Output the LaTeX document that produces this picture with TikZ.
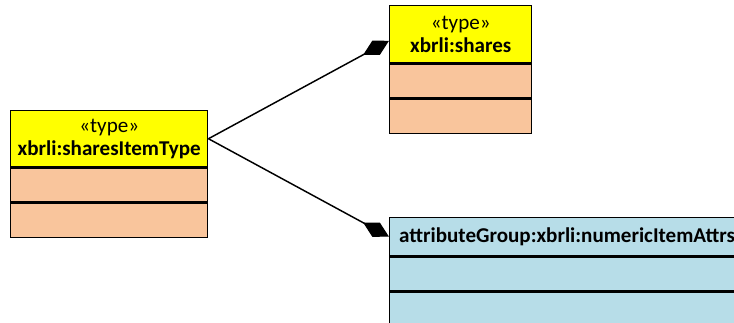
\documentclass[tikz,border=0pt]{standalone}
\usepackage{fontspec}
\setmainfont{Carlito}
\usepackage{tikz}
\usetikzlibrary{arrows.meta, positioning}

\definecolor{umlyellow}{HTML}{FFFF00}
\definecolor{umlpeach}{HTML}{F9C59C}
\definecolor{umlblue}{HTML}{B7DDE8}

\begin{document}
\begin{tikzpicture}[
    x=0.75pt, y=-0.75pt,
    box/.style={
        draw, line width=1.1pt,
        anchor=north west,
        inner sep=0pt,
        font=\fontsize{15.8}{17.5}\selectfont
    },
    typehdr/.style={box, fill=umlyellow, align=center},
    grouphdr/.style={box, fill=umlblue, align=center},
    peachslot/.style={box, fill=umlpeach},
    blueslot/.style={box, fill=umlblue},
    assoc/.style={line width=1.1pt, -{Diamond[length=22pt, width=12pt]}}
]
\clip (0,0) rectangle (734,323);

% ------- Left class -------
\node[typehdr, minimum width=147.75pt, minimum height=42pt] (item) at (10,110)
    {\guillemotleft type\guillemotright\\\textbf{xbrli:sharesItemType}};
\node[peachslot, minimum width=147.75pt, minimum height=25.5pt] (item-a) at (item.south west) {};
\node[peachslot, minimum width=147.75pt, minimum height=25.5pt] (item-b) at (item-a.south west) {};

% ------- Top class -------
\node[typehdr, minimum width=106.5pt, minimum height=42.75pt] (shares) at (389,5)
    {\guillemotleft type\guillemotright\\\textbf{xbrli:shares}};
\node[peachslot, minimum width=106.5pt, minimum height=25.5pt] (shares-a) at (shares.south west) {};
\node[peachslot, minimum width=106.5pt, minimum height=25.5pt] (shares-b) at (shares-a.south west) {};

% ------- Attribute group (cut off at the right) -------
\node[grouphdr, minimum width=266pt, minimum height=28.5pt] (attrs) at (389,217)
    {\textbf{attributeGroup:xbrli:numericItemAttrs}};
\node[blueslot, minimum width=266pt, minimum height=25.5pt] (attrs-a) at (attrs.south west) {};
\node[blueslot, minimum width=266pt, minimum height=25.5pt] (attrs-b) at (attrs-a.south west) {};

% Associations
\draw[assoc] (item.east) -- ([yshift=-4.9pt]shares.west);
\draw[assoc] (item.east) -- (attrs.west);
\end{tikzpicture}
\end{document}
